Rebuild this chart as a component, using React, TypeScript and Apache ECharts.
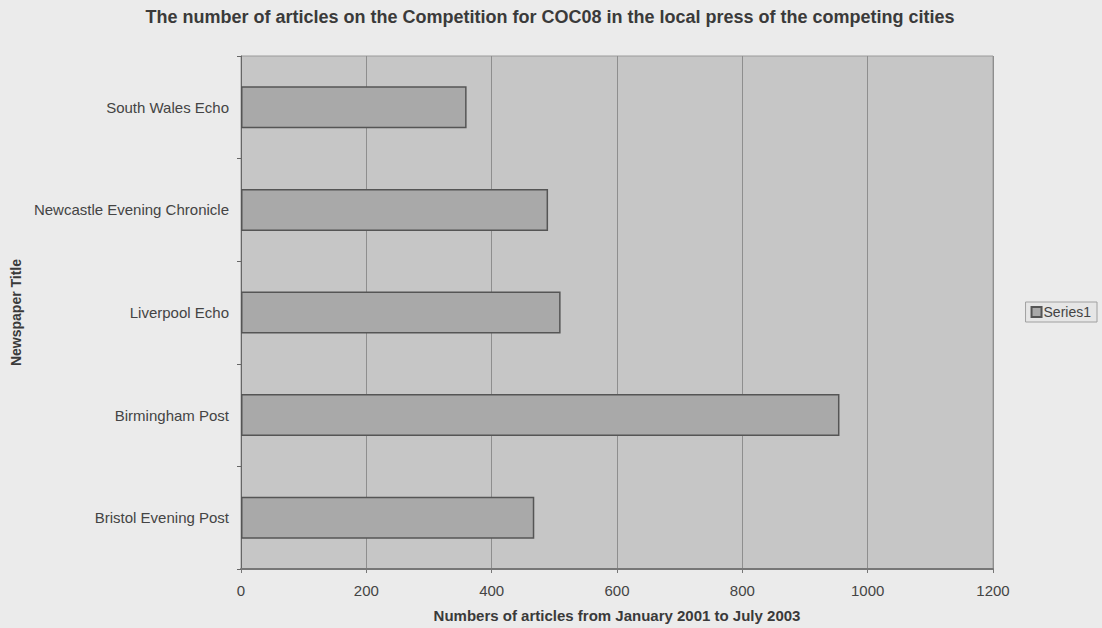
import React, { useEffect, useRef } from "react";
import * as echarts from "echarts";

const categories = [
  "Bristol Evening Post",
  "Birmingham Post",
  "Liverpool Echo",
  "Newcastle Evening Chronicle",
  "South Wales Echo",
];
const series1 = [468, 955, 510, 490, 360];
const xTicks = { min: 0, max: 1200, interval: 200 };

const FONT = "Liberation Sans, Arial";

export default function App() {
  const ref = useRef<HTMLDivElement>(null);
  useEffect(() => {
    if (!ref.current) return;
    const chart = echarts.init(ref.current, null, { renderer: "svg" });
    chart.setOption({
      animation: false,
      backgroundColor: "#ebebeb",
      title: {
        text: "The number of articles on the Competition for COC08 in the local press of the competing cities",
        left: 545,
        textAlign: "center",
        top: 3,
        textStyle: { fontFamily: FONT, fontSize: 18, fontWeight: "bold", color: "#3a3a3a" },
      },
      legend: {
        data: ["Series1"],
        right: 5,
        top: 302,
        orient: "vertical",
        backgroundColor: "#e6e6e6",
        borderColor: "#a0a0a0",
        borderWidth: 1,
        padding: [3, 6, 3, 5],
        itemWidth: 10,
        itemHeight: 10,
        icon: "rect",
        textStyle: { fontFamily: FONT, fontSize: 14, color: "#444", padding: [0, 0, 0, -3] },
      },
      grid: {
        left: 241,
        right: 109,
        top: 56,
        bottom: 59,
        containLabel: false,
        outerBoundsMode: "none",
        show: true,
        backgroundColor: "#c6c6c6",
        borderColor: "#9a9a9a",
        borderWidth: 1,
      },
      xAxis: {
        type: "value",
        min: xTicks.min,
        max: xTicks.max,
        interval: xTicks.interval,
        name: "Numbers of articles from January 2001 to July 2003",
        nameLocation: "middle",
        nameGap: 39,
        nameTextStyle: { fontFamily: FONT, fontSize: 15, fontWeight: "bold", color: "#3a3a3a" },
        axisLine: { show: true, lineStyle: { color: "#777", width: 2 } },
        axisTick: { show: true, length: 4, lineStyle: { color: "#777" } },
        axisLabel: { fontFamily: FONT, fontSize: 15, color: "#444", margin: 14, formatter: (v: number) => String(v) },
        splitLine: { show: true, lineStyle: { color: "#8e8e8e", width: 1 } },
      },
      yAxis: {
        type: "category",
        data: categories,
        name: "Newspaper Title",
        nameLocation: "middle",
        nameGap: 216,
        nameRotate: 90,
        nameTextStyle: { fontFamily: FONT, fontSize: 14, fontWeight: "bold", color: "#3a3a3a" },
        axisLine: { show: true, lineStyle: { color: "#666" } },
        axisTick: { show: true, length: 4, lineStyle: { color: "#666" } },
        axisLabel: { fontFamily: FONT, fontSize: 15, color: "#444", margin: 12 },
        splitLine: { show: false },
      },
      series: [
        {
          name: "Series1",
          type: "bar",
          data: series1,
          barWidth: 42,
          itemStyle: { color: "#a9a9a9", borderColor: "#555", borderWidth: 1.5 },
        },
      ],
    });
    return () => chart.dispose();
  }, []);
  return <div ref={ref} style={{ position: "absolute", left: 0, top: 0, width: 1102, height: 628 }} />;
}
